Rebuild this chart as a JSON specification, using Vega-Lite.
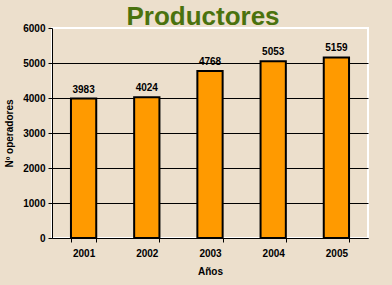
{
  "$schema": "https://vega.github.io/schema/vega-lite/v6.json",
  "width": 316,
  "height": 210,
  "autosize": "none",
  "padding": {"left": 52, "top": 28, "right": 24, "bottom": 47},
  "background": "#ECDFCC",
  "view": {"stroke": "white", "strokeWidth": 2},
  "title": {
    "text": "Productores",
    "font": "Liberation Sans",
    "fontSize": 26,
    "fontWeight": "bold",
    "color": "#4A720E",
    "anchor": "middle",
    "baseline": "alphabetic",
    "offset": 0,
    "dx": -7,
    "dy": 28
  },
  "data": {
    "values": [
      {"year": "2001", "value": 3983},
      {"year": "2002", "value": 4024},
      {"year": "2003", "value": 4768},
      {"year": "2004", "value": 5053},
      {"year": "2005", "value": 5159}
    ]
  },
  "encoding": {
    "x": {
      "field": "year",
      "type": "ordinal",
      "scale": {"paddingInner": 0.6, "paddingOuter": 0.3},
      "axis": {
        "title": "Años",
        "labelAngle": 0,
        "bandPosition": 0,
        "tickBand": "extent",
        "tickSize": 4,
        "labelPadding": 6,
        "titlePadding": 8,
        "domainColor": "black",
        "tickColor": "black",
        "labelFont": "Liberation Sans",
        "labelFontWeight": "bold",
        "labelFontSize": 10,
        "labelColor": "black",
        "titleFont": "Liberation Sans",
        "titleFontWeight": "bold",
        "titleFontSize": 10,
        "titleColor": "black"
      }
    },
    "y": {
      "field": "value",
      "type": "quantitative",
      "scale": {"domain": [0, 6000]},
      "axis": {
        "title": "Nº operadores",
        "format": "d",
        "values": [0, 1000, 2000, 3000, 4000, 5000, 6000],
        "grid": true,
        "gridColor": {"condition": {"test": "datum.value === 6000", "value": "white"}, "value": "black"},
        "gridOpacity": 1,
        "tickSize": 4,
        "labelPadding": 3,
        "titlePadding": 8,
        "domainColor": "black",
        "tickColor": "black",
        "labelFont": "Liberation Sans",
        "labelFontWeight": "bold",
        "labelFontSize": 10,
        "labelColor": "black",
        "titleFont": "Liberation Sans",
        "titleFontWeight": "bold",
        "titleFontSize": 10,
        "titleColor": "black"
      }
    }
  },
  "layer": [
    {
      "mark": {"type": "bar", "color": "#FF9A00", "stroke": "black", "strokeWidth": 2}
    },
    {
      "mark": {
        "type": "text",
        "baseline": "alphabetic",
        "dy": -6,
        "font": "Liberation Sans",
        "fontWeight": "bold",
        "fontSize": 10,
        "color": "black"
      },
      "encoding": {"text": {"field": "value", "type": "quantitative", "format": "d"}}
    }
  ]
}
